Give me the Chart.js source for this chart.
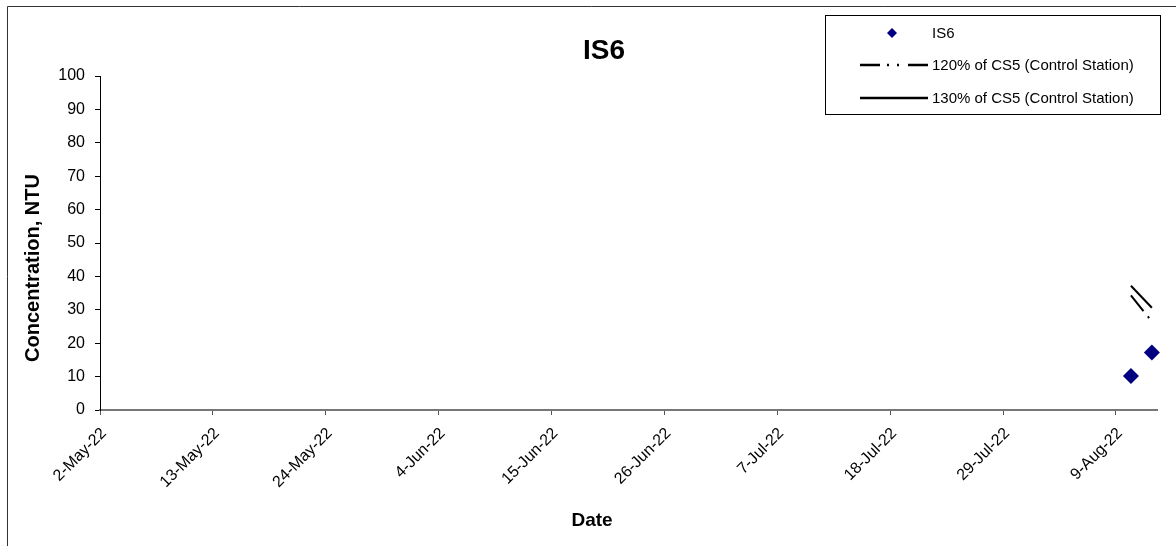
<!DOCTYPE html>
<html>
<head>
<meta charset="utf-8">
<script src="https://cdn.jsdelivr.net/npm/chart.js@4.4.1/dist/chart.umd.min.js"></script>
<style>
html, body { margin: 0; padding: 0; background: #fff; }
#wrap { width: 1176px; height: 546px; }
</style>
</head>
<body>
<div id="wrap"><canvas id="chart_is6" width="1176" height="546"></canvas></div>
<script>
// data
const sampleTimes = ['10-Aug-22 11:00', '12-Aug-22 12:00'];
const is6Values = [10.2, 17.2];
const limit120 = [34.3, 26.5];   // 120% of CS5
const limit130 = [37.2, 30.6];   // 130% of CS5
const tickLabels = ['2-May-22', '13-May-22', '24-May-22', '4-Jun-22', '15-Jun-22',
    '26-Jun-22', '7-Jul-22', '18-Jul-22', '29-Jul-22', '9-Aug-22'];
const axisStart = '2-May-22';
const axisEnd = '13-Aug-22';
const yTicks = [0, 10, 20, 30, 40, 50, 60, 70, 80, 90, 100];

const FONT = "'Liberation Sans', Arial, sans-serif";
const MONTHS = ['Jan','Feb','Mar','Apr','May','Jun','Jul','Aug','Sep','Oct','Nov','Dec'];

// "9-Aug-22 11:00" -> ms
function toMs(s) {
    const parts = s.split(' ');
    const d = parts[0].split('-');
    let h = 0, m = 0;
    if (parts[1]) { const t = parts[1].split(':'); h = +t[0]; m = +t[1]; }
    return Date.UTC(2000 + (+d[2]), MONTHS.indexOf(d[1]), +d[0], h, m);
}
const base = toMs(axisStart);
function toDay(s) { return (toMs(s) - base) / 86400000; }

function pts(vals) {
    return vals.map((v, i) => ({ x: toDay(sampleTimes[i]), y: v }));
}

// frame, titles and boxed legend like the excel sheet
const sheetBits = {
    id: 'sheetBits',
    afterDraw(chart) {
        const ctx = chart.ctx;
        ctx.save();
        // outer frame
        ctx.strokeStyle = '#333';
        ctx.lineWidth = 1;
        ctx.beginPath();
        ctx.moveTo(7.5, 546); ctx.lineTo(7.5, 6.5); ctx.lineTo(1176, 6.5);
        ctx.stroke();

        // titles
        ctx.fillStyle = '#000';
        ctx.textAlign = 'center';
        ctx.textBaseline = 'middle';
        ctx.font = 'bold 28px ' + FONT;
        ctx.fillText('IS6', 604, 51);
        ctx.font = 'bold 19px ' + FONT;
        ctx.fillText('Date', 592, 521);
        ctx.save();
        ctx.translate(33, 268);
        ctx.rotate(-Math.PI / 2);
        ctx.font = 'bold 20px ' + FONT;
        ctx.fillText('Concentration, NTU', 0, 0);
        ctx.restore();

        // legend
        ctx.strokeStyle = '#000';
        ctx.strokeRect(825.5, 15.5, 335, 99);
        const rows = [33, 65, 98];
        ctx.font = '15px ' + FONT;
        ctx.textAlign = 'left';
        chart.data.datasets.forEach((ds, i) => {
            const y = rows[i];
            if (ds.showLine === false) {
                ctx.fillStyle = ds.backgroundColor;
                ctx.beginPath();
                ctx.moveTo(892, y - 5); ctx.lineTo(897, y); ctx.lineTo(892, y + 5); ctx.lineTo(887, y);
                ctx.closePath();
                ctx.fill();
            } else {
                ctx.strokeStyle = ds.borderColor;
                ctx.lineWidth = 2.5;
                ctx.setLineDash(ds.borderDash || []);
                ctx.beginPath();
                ctx.moveTo(860, y); ctx.lineTo(928, y);
                ctx.stroke();
                ctx.setLineDash([]);
            }
            ctx.fillStyle = '#000';
            ctx.fillText(ds.label, 932, y + 1);
        });
        ctx.restore();
    }
};

new Chart(document.getElementById('chart_is6'), {
    type: 'scatter',
    data: {
        datasets: [
            {
                label: 'IS6',
                data: pts(is6Values),
                showLine: false,
                clip: false,
                pointStyle: 'rectRot',
                pointRadius: 8,
                backgroundColor: '#000080',
                borderColor: '#000080',
                borderWidth: 0
            },
            {
                label: '120% of CS5 (Control Station)',
                data: pts(limit120),
                showLine: true,
                clip: false,
                pointRadius: 0,
                borderColor: '#000',
                borderWidth: 2,
                borderDash: [20, 7, 2, 8, 2, 9]
            },
            {
                label: '130% of CS5 (Control Station)',
                data: pts(limit130),
                showLine: true,
                clip: false,
                pointRadius: 0,
                borderColor: '#000',
                borderWidth: 2
            }
        ]
    },
    options: {
        responsive: false,
        animation: false,
        devicePixelRatio: 1,
        layout: { padding: { top: 76, right: 19, left: 0, bottom: 0 } },
        plugins: {
            legend: { display: false },
            title: { display: false },
            tooltip: { enabled: false }
        },
        scales: {
            x: {
                type: 'linear',
                min: 0,
                max: toDay(axisEnd),
                afterBuildTicks: s => { s.ticks = tickLabels.map(l => ({ value: toDay(l) })); },
                afterFit: s => { s.height = 136; },
                ticks: {
                    autoSkip: false,
                    minRotation: 45,
                    maxRotation: 45,
                    padding: 9,
                    labelOffset: 4,
                    color: '#000',
                    font: { family: FONT, size: 16 },
                    callback: (v, i) => tickLabels[i]
                },
                grid: { drawOnChartArea: false, tickLength: 5, color: '#555' },
                border: { color: '#777', width: 2 }
            },
            y: {
                min: 0,
                max: 100,
                afterBuildTicks: s => { s.ticks = yTicks.map(v => ({ value: v })); },
                afterFit: s => { s.width = 100; },
                ticks: {
                    padding: 10,
                    color: '#000',
                    font: { family: FONT, size: 16 }
                },
                grid: { drawOnChartArea: false, tickLength: 5, color: '#000' },
                border: { color: '#000', width: 1 }
            }
        }
    },
    plugins: [sheetBits]
});
</script>
</body>
</html>
